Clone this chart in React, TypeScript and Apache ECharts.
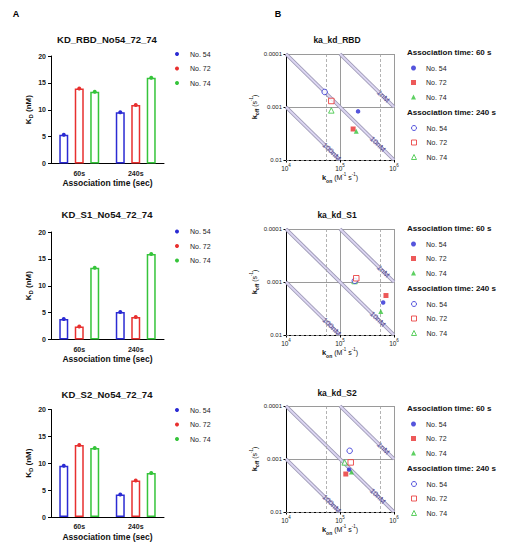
import React, { useEffect, useRef } from "react";
import * as echarts from "echarts";

// ---------- data ----------
const groups = ["No. 54", "No. 72", "No. 74"];
const timeCats = ["60s", "240s"];
const barTitles = ["KD_RBD_No54_72_74", "KD_S1_No54_72_74", "KD_S2_No54_72_74"];
// KD (nM) per group: [60s, 240s]
const kdRBD = [[5.35, 9.55], [13.95, 10.9], [13.35, 15.95]];
const kdS1 = [[3.8, 5.1], [2.4, 4.2], [13.35, 15.9]];
const kdS2 = [[9.55, 4.2], [13.4, 6.8], [12.85, 8.2]];
const kdAxis = { min: 0, max: 20, interval: 5 };

const kinTitles = ["ka_kd_RBD", "ka_kd_S1", "ka_kd_S2"];
const kinKeys = ["RBD", "S1", "S2"];
// [kon (M^-1 s^-1), koff (s^-1)] per group
const rbd60 = [[2.16e5, 1.21e-3], [1.75e5, 2.6e-3], [2.0e5, 2.86e-3]];
const rbd240 = [[5.2e4, 5.2e-4], [6.9e4, 7.7e-4], [6.9e4, 1.16e-3]];
const s1_60 = [[6.3e5, 2.44e-3], [7.1e5, 1.8e-3], [5.7e5, 3.6e-3]];
const s1_240 = [[1.88e5, 9.5e-4], [2.0e5, 8.5e-4], [1.86e5, 9.6e-4]];
const s2_60 = [[1.47e5, 1.59e-3], [1.28e5, 1.92e-3], [1.63e5, 1.76e-3]];
const s2_240 = [[1.51e5, 7.0e-4], [1.58e5, 1.16e-3], [1.22e5, 1.16e-3]];
const isoKD = [1e-9, 1e-8, 1e-7];
const isoLabels = ["1nM", "10nM", "100nM"];
const isoLabelKon = [6.3e5, 5.0e5, 7.0e4];
const konRange = [1e4, 1e6];
const koffRange = [1e-4, 1e-2];
const koffTickLabels = ["0.0001", "0.001", "0.01"];
const refKon = [5.6e4, 5.6e5];
const refKoff = [5.6e-4, 5.6e-3];
const timeHeaders = ["Association time: 60 s", "Association time: 240 s"];

// ---------- layout / style ----------
const FONT = "Liberation Sans, Arial, sans-serif";
const colors = ["#2b2bd3", "#e8302f", "#36c43b"];
const symbols = ["circle", "rect", "triangle"];
const A_TOPS = [56, 232, 409.5];
const A_LEFT = 51;
const A_W = 113;
const A_H = 107.5;
const A_TITLE_Y = [39, 214.5, 394];
const A_LEG_TOP = [49, 226.5, 405];
const B_TOPS = [54, 229, 406];
const B_LEFT = 286;
const B_W = 108;
const B_H = 106;
const B_TITLE_Y = [40, 215, 393];
const B_LEG_Y0 = [52, 228, 408];

export default function App() {
  const ref = useRef<HTMLDivElement>(null);
  useEffect(() => {
    if (!ref.current) return;
    const chart = echarts.init(ref.current, undefined, { renderer: "svg" });
    const kdPanels = [kdRBD, kdS1, kdS2];
    const kin60 = [rbd60, s1_60, s2_60];
    const kin240 = [rbd240, s1_240, s2_240];

    const grid: any[] = [];
    const xAxis: any[] = [];
    const yAxis: any[] = [];
    const series: any[] = [];
    const legend: any[] = [];
    const graphic: any[] = [];

    graphic.push({ type: "text", x: 16, y: 14, style: { text: "A", fontSize: 9, fontWeight: "bold", fontFamily: FONT, fill: "#000", textAlign: "center", textVerticalAlign: "middle" } });
    graphic.push({ type: "text", x: 278, y: 14, style: { text: "B", fontSize: 9, fontWeight: "bold", fontFamily: FONT, fill: "#000", textAlign: "center", textVerticalAlign: "middle" } });

    // ----- A: bar panels -----
    for (let p = 0; p < 3; p++) {
      grid.push({ left: A_LEFT, top: A_TOPS[p], width: A_W, height: A_H });
      xAxis.push({
        type: "category", gridIndex: p, data: timeCats,
        axisLine: { lineStyle: { color: "#000", width: 1 } },
        axisTick: { alignWithLabel: true, length: 3, lineStyle: { color: "#000" } },
        axisLabel: { margin: 6, fontSize: 7, fontWeight: "bold", color: "#222", fontFamily: FONT },
        name: "Association time (sec)", nameLocation: "middle", nameGap: 15,
        nameTextStyle: { fontSize: 8.5, fontWeight: "bold", color: "#111", fontFamily: FONT },
      });
      yAxis.push({
        type: "value", gridIndex: p, min: kdAxis.min, max: kdAxis.max, interval: kdAxis.interval,
        axisLine: { show: true, lineStyle: { color: "#000", width: 1 } },
        axisTick: { show: true, length: 3, lineStyle: { color: "#000" } },
        axisLabel: { margin: 5, fontSize: 7, fontWeight: "bold", color: "#222", fontFamily: FONT },
        splitLine: { show: false },
        name: "{k|K}{d|D}{k| (nM)}", nameLocation: "middle", nameGap: 15,
        nameTextStyle: {
          fontFamily: FONT, color: "#111",
          rich: {
            k: { fontSize: 8, fontWeight: "bold", lineHeight: 12, fontFamily: FONT, color: "#111" },
            d: { fontSize: 6, fontWeight: "bold", verticalAlign: "bottom", fontFamily: FONT, color: "#111" },
          },
        },
      });
      for (let g = 0; g < 3; g++) {
        series.push({
          type: "pictorialBar", name: groups[g], xAxisIndex: p, yAxisIndex: p,
          data: kdPanels[p][g], symbol: "circle", symbolSize: [4, 4], symbolPosition: "end",
          symbolOffset: [0, "-50%"], barWidth: 9, barGap: "72%", z: 4,
          itemStyle: { color: colors[g] }, silent: true,
        });
      }
      for (let g = 0; g < 3; g++) {
        series.push({
          type: "bar", name: groups[g], xAxisIndex: p, yAxisIndex: p,
          data: kdPanels[p][g], barWidth: 9, barGap: "72%", z: 2,
          itemStyle: { color: "#fff", borderColor: colors[g], borderWidth: 1.5 }, silent: true,
        });
      }
      legend.push({
        orient: "vertical", left: 175, top: A_LEG_TOP[p], itemWidth: 4, itemHeight: 4, itemGap: 4.5,
        icon: "circle", selectedMode: false, padding: 0,
        textStyle: { fontSize: 7, lineHeight: 10, color: "#222", fontFamily: FONT, padding: [0, 0, 0, 6] },
        data: groups.map((g, i) => ({ name: g, itemStyle: { color: colors[i] } })),
      });
      graphic.push({
        type: "text", x: 107, y: A_TITLE_Y[p],
        style: { text: barTitles[p], fontSize: 9.5, fontWeight: "bold", fontFamily: FONT, fill: "#111", textAlign: "center", textVerticalAlign: "middle" },
      });
    }

    // ----- B: kinetic panels -----
    for (let p = 0; p < 3; p++) {
      const gi = 3 + p;
      const key = kinKeys[p];
      grid.push({ left: B_LEFT, top: B_TOPS[p], width: B_W, height: B_H });
      xAxis.push({
        type: "log", logBase: 10, gridIndex: gi, min: konRange[0], max: konRange[1],
        axisLine: { show: true, onZero: false, lineStyle: { color: "#000", width: 1 } },
        axisTick: { show: true, length: 2.5, lineStyle: { color: "#000" } },
        splitLine: { show: true, lineStyle: { color: "#9a9a9a", width: 1 } },
        axisLabel: {
          margin: 3, fontFamily: FONT, color: "#222",
          formatter: (v: number) => `{b|10}{s|${Math.round(Math.log10(v))}}`,
          rich: {
            b: { fontSize: 6.5, lineHeight: 10, fontFamily: FONT, color: "#222" },
            s: { fontSize: 4.5, verticalAlign: "top", fontFamily: FONT, color: "#222" },
          },
        },
        name: "{k|k}{sb|on}{t| (M}{sp|-1}{t| s}{sp|-1}{t|)}", nameLocation: "middle", nameGap: 11,
        nameTextStyle: {
          rich: {
            k: { fontSize: 7.5, fontWeight: "bold", lineHeight: 11, fontFamily: FONT, color: "#111" },
            t: { fontSize: 7, lineHeight: 11, fontFamily: FONT, color: "#111" },
            sb: { fontSize: 5, fontWeight: "bold", verticalAlign: "bottom", fontFamily: FONT, color: "#111" },
            sp: { fontSize: 4.5, verticalAlign: "top", fontFamily: FONT, color: "#111" },
          },
        },
      });
      yAxis.push({
        type: "log", logBase: 10, gridIndex: gi, min: koffRange[0], max: koffRange[1], inverse: true,
        axisLine: { show: true, onZero: false, lineStyle: { color: "#000", width: 1 } },
        axisTick: { show: true, length: 2.5, lineStyle: { color: "#000" } },
        splitLine: { show: true, lineStyle: { color: "#9a9a9a", width: 1 } },
        axisLabel: {
          margin: 4, fontSize: 6, color: "#222", fontFamily: FONT,
          formatter: (v: number) => koffTickLabels[Math.round(Math.log10(v) - Math.log10(koffRange[0]))] ?? "",
        },
        name: "{k|k}{sb|off}{t| (s}{sp|-1}{t|)}", nameLocation: "middle", nameGap: 26,
        nameTextStyle: {
          rich: {
            k: { fontSize: 7.5, fontWeight: "bold", lineHeight: 11, fontFamily: FONT, color: "#111" },
            t: { fontSize: 7, lineHeight: 11, fontFamily: FONT, color: "#111" },
            sb: { fontSize: 5, fontWeight: "bold", verticalAlign: "bottom", fontFamily: FONT, color: "#111" },
            sp: { fontSize: 4.5, verticalAlign: "top", fontFamily: FONT, color: "#111" },
          },
        },
      });

      // iso-KD diagonals (outline + light fill)
      isoKD.forEach((kd, i) => {
        const k1 = Math.max(konRange[0], koffRange[0] / kd);
        const k2 = Math.min(konRange[1], koffRange[1] / kd);
        const pts = [[k1, kd * k1], [k2, kd * k2]];
        series.push({
          type: "line", xAxisIndex: gi, yAxisIndex: gi, data: pts, symbol: "none", silent: true, z: 1,
          lineStyle: { color: "#9c98b4", width: 3.6 },
          ...(i === 0
            ? {
                markLine: {
                  silent: true, symbol: ["none", "none"], label: { show: false },
                  lineStyle: { type: [3, 2], color: "#a0a0a0", width: 0.8 },
                  data: [...refKon.map((v) => ({ xAxis: v })), ...refKoff.map((v) => ({ yAxis: v }))],
                },
              }
            : {}),
        });
        series.push({
          type: "line", xAxisIndex: gi, yAxisIndex: gi, data: pts, symbol: "none", silent: true, z: 1,
          lineStyle: { color: "#dcd6f2", width: 1.8 },
        });
      });
      series.push({
        type: "scatter", xAxisIndex: gi, yAxisIndex: gi, symbolSize: 1, silent: true, z: 3,
        itemStyle: { color: "rgba(0,0,0,0)" },
        label: { show: true, position: "inside", formatter: "{b}", rotate: -45, fontSize: 7.5, color: "#33267f", fontFamily: FONT },
        data: isoKD.map((kd, i) => ({ name: isoLabels[i], value: [isoLabelKon[i], kd * isoLabelKon[i]] })),
      });

      // data points
      for (let g = 0; g < 3; g++) {
        series.push({
          type: "scatter", name: `${key} 60 s|${groups[g]}`, xAxisIndex: gi, yAxisIndex: gi,
          data: [kin60[p][g]], symbol: symbols[g], symbolSize: g === 0 ? 4.5 : 5, z: 6,
          itemStyle: { color: colors[g] },
        });
      }
      for (let g = 0; g < 3; g++) {
        series.push({
          type: "scatter", name: `${key} 240 s|${groups[g]}`, xAxisIndex: gi, yAxisIndex: gi,
          data: [kin240[p][g]], symbol: symbols[g], symbolSize: 5.5, z: g === 2 ? 5 : 7,
          itemStyle: { color: "#fff", borderColor: colors[g], borderWidth: 1 },
        });
      }
      const y0 = B_LEG_Y0[p];
      ["60 s", "240 s"].forEach((t, ti) => {
        legend.push({
          orient: "vertical", left: 411, top: y0 + 11 + ti * 60, itemWidth: 5, itemHeight: 5, itemGap: 4.5,
          selectedMode: false, padding: 0,
          textStyle: { fontSize: 7, lineHeight: 10, color: "#222", fontFamily: FONT, padding: [0, 0, 0, 5] },
          formatter: (n: string) => n.split("|")[1],
          data: groups.map((g, i) => ({
            name: `${key} ${t}|${g}`, icon: symbols[i],
            itemStyle: ti === 0 ? { color: colors[i] } : { color: "#fff", borderColor: colors[i], borderWidth: 1 },
          })),
        });
        graphic.push({
          type: "text", x: 407, y: y0 + ti * 60,
          style: { text: timeHeaders[ti], fontSize: 8, fontWeight: "bold", fontFamily: FONT, fill: "#111", textAlign: "left", textVerticalAlign: "middle" },
        });
      });
      graphic.push({
        type: "text", x: 337, y: B_TITLE_Y[p],
        style: { text: kinTitles[p], fontSize: 8.5, fontWeight: "bold", fontFamily: FONT, fill: "#111", textAlign: "center", textVerticalAlign: "middle" },
      });
    }

    chart.setOption({
      animation: false,
      backgroundColor: "#fff",
      textStyle: { fontFamily: FONT },
      grid, xAxis, yAxis, series, legend, graphic,
    });
    return () => chart.dispose();
  }, []);
  return (
    <div
      ref={ref}
      style={{ position: "absolute", left: 0, top: 0, width: 510, height: 551, background: "#fff" }}
    />
  );
}
